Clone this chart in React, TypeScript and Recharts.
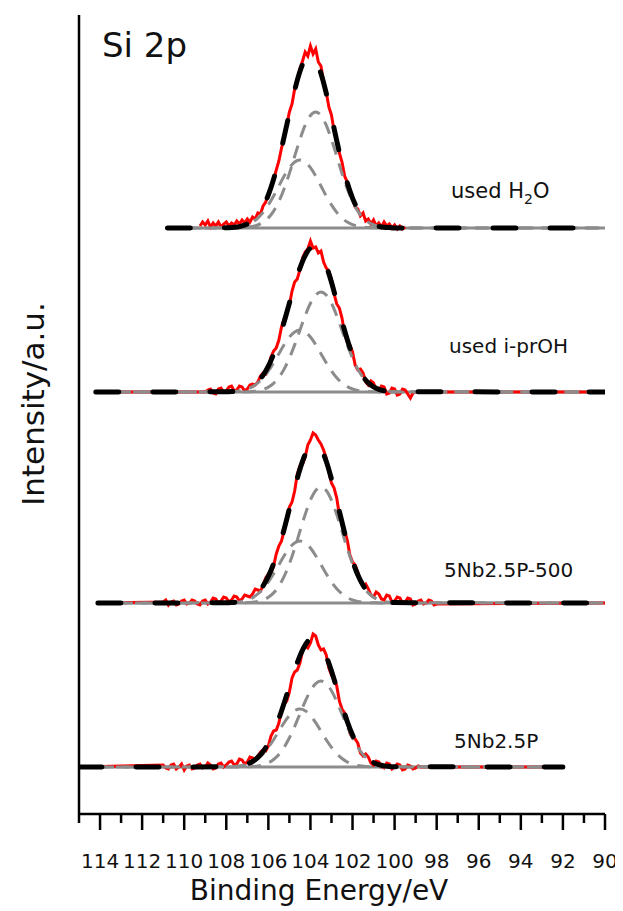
import React from 'react';
import { LineChart, Line, XAxis, YAxis } from 'recharts';

const FONT = '"DejaVu Sans", Verdana, sans-serif';

// Axis ticks (binding energy, eV)
const MAJOR_TICKS = [114, 112, 110, 108, 106, 104, 102, 100, 98, 96, 94, 92, 90];
const MINOR_TICKS = [115, 113, 111, 109, 107, 105, 103, 101, 99, 97, 95, 93, 91];

// Spectra (top to bottom)
const NAMES = ['used H2O', 'used i-prOH', '5Nb2.5P-500', '5Nb2.5P'];
const OFFSETS = [586, 422, 211, 47];
const RANGE_START = [110.8, 114.2, 114.1, 115];
const RANGE_END = [90, 90, 90, 92];

// Binding-energy grid of the fitted curves (peak region)
const FIT_BE = [108, 107.75, 107.5, 107.25, 107, 106.75, 106.5, 106.25, 106, 105.75, 105.5, 105.25, 105, 104.75, 104.5, 104.25, 104, 103.75, 103.5, 103.25, 103, 102.75, 102.5, 102.25, 102, 101.75, 101.5, 101.25, 101, 100.75, 100.5, 100.25, 100];

const H2O_ENV = [0.2, 0.4, 1.0, 2.2, 4.0, 7.4, 12.9, 21.3, 33.2, 48.9, 68.6, 91.2, 114.9, 137.7, 156.5, 168.9, 172.8, 167.9, 154.5, 134.9, 111.6, 87.3, 64.5, 45.2, 29.9, 18.7, 11.0, 6.1, 3.2, 1.6, 0.7, 0.4, 0.1];
const H2O_A = [0, 0, 0.1, 0.4, 0.7, 1.5, 3, 5.7, 10.1, 16.9, 26.6, 39.3, 54.6, 71.7, 88.5, 102.9, 112.5, 116, 112.5, 102.9, 88.5, 71.7, 54.6, 39.3, 26.6, 16.9, 10.1, 5.7, 3, 1.5, 0.7, 0.4, 0.1];
const H2O_B = [0.2, 0.4, 0.9, 1.8, 3.3, 5.9, 9.9, 15.6, 23.1, 32, 42, 51.9, 60.3, 66, 68, 66, 60.3, 51.9, 42, 32, 23.1, 15.6, 9.9, 5.9, 3.3, 1.8, 0.9, 0.4, 0.2, 0.1, 0, 0, 0];

const IPR_ENV = [0.2, 0.4, 0.8, 1.7, 3.3, 6.0, 10.4, 16.8, 25.9, 37.9, 52.9, 70.2, 88.9, 107.2, 123.8, 136.4, 143.7, 144.3, 138.3, 126.2, 109.7, 90.5, 70.9, 52.5, 36.9, 24.5, 15.4, 9.1, 5.1, 2.7, 1.3, 0.6, 0.3];
const IPR_A = [0, 0, 0, 0.1, 0.3, 0.6, 1.3, 2.6, 4.9, 8.7, 14.6, 22.9, 33.9, 47.1, 61.8, 76.3, 88.7, 97, 100, 97, 88.7, 76.3, 61.8, 47.1, 33.9, 22.9, 14.6, 8.7, 4.9, 2.6, 1.3, 0.6, 0.3];
const IPR_B = [0.2, 0.4, 0.8, 1.6, 3, 5.4, 9.1, 14.2, 21, 29.2, 38.3, 47.3, 55, 60.1, 62, 60.1, 55, 47.3, 38.3, 29.2, 21, 14.2, 9.1, 5.4, 3, 1.6, 0.8, 0.4, 0.2, 0.1, 0, 0, 0];

const C500_ENV = [0.2, 0.4, 0.9, 1.7, 3.4, 6.1, 10.6, 17.2, 26.7, 39.3, 55.2, 73.9, 94.3, 114.7, 133.7, 148.6, 157.9, 159.8, 154.3, 141.7, 123.9, 102.7, 80.8, 60.0, 42.3, 28.2, 17.7, 10.5, 5.9, 3.1, 1.5, 0.7, 0.4];
const C500_A = [0, 0, 0.1, 0.1, 0.4, 0.7, 1.5, 3, 5.7, 10.1, 16.9, 26.6, 39.3, 54.6, 71.7, 88.5, 102.9, 112.5, 116, 112.5, 102.9, 88.5, 71.7, 54.6, 39.3, 26.6, 16.9, 10.1, 5.7, 3, 1.5, 0.7, 0.4];
const C500_B = [0.2, 0.4, 0.8, 1.6, 3, 5.4, 9.1, 14.2, 21, 29.2, 38.3, 47.3, 55, 60.1, 62, 60.1, 55, 47.3, 38.3, 29.2, 21, 14.2, 9.1, 5.4, 3, 1.6, 0.8, 0.4, 0.2, 0.1, 0, 0, 0];

const NB_ENV = [0.2, 0.3, 0.8, 1.6, 3.1, 5.5, 9.6, 15.5, 23.9, 34.8, 48.4, 64.0, 80.6, 96.8, 111.1, 121.9, 127.7, 127.7, 121.8, 110.7, 96.0, 78.9, 61.6, 45.5, 32.0, 21.2, 13.4, 7.8, 4.4, 2.3, 1.1, 0.5, 0.3];
const NB_A = [0, 0, 0, 0.1, 0.3, 0.5, 1.1, 2.2, 4.2, 7.5, 12.6, 19.7, 29.2, 40.5, 53.1, 65.6, 76.3, 83.4, 86, 83.4, 76.3, 65.6, 53.1, 40.5, 29.2, 19.7, 12.6, 7.5, 4.2, 2.2, 1.1, 0.5, 0.3];
const NB_B = [0.2, 0.3, 0.8, 1.5, 2.8, 5, 8.5, 13.3, 19.7, 27.3, 35.8, 44.3, 51.4, 56.3, 58, 56.3, 51.4, 44.3, 35.8, 27.3, 19.7, 13.3, 8.5, 5, 2.8, 1.5, 0.8, 0.3, 0.2, 0.1, 0, 0, 0];

// Binding-energy grid of the measured (raw) spectra, 111 -> 98 eV
const RAW_BE = [
  111, 110.875, 110.75, 110.625, 110.5, 110.375, 110.25, 110.125,
  110, 109.875, 109.75, 109.625, 109.5, 109.375, 109.25, 109.125,
  109, 108.875, 108.75, 108.625, 108.5, 108.375, 108.25, 108.125,
  108, 107.875, 107.75, 107.625, 107.5, 107.375, 107.25, 107.125,
  107, 106.875, 106.75, 106.625, 106.5, 106.375, 106.25, 106.125,
  106, 105.875, 105.75, 105.625, 105.5, 105.375, 105.25, 105.125,
  105, 104.875, 104.75, 104.625, 104.5, 104.375, 104.25, 104.125,
  104, 103.875, 103.75, 103.625, 103.5, 103.375, 103.25, 103.125,
  103, 102.875, 102.75, 102.625, 102.5, 102.375, 102.25, 102.125,
  102, 101.875, 101.75, 101.625, 101.5, 101.375, 101.25, 101.125,
  101, 100.875, 100.75, 100.625, 100.5, 100.375, 100.25, 100.125,
  100, 99.875, 99.75, 99.625, 99.5, 99.375, 99.25, 99.125,
  99, 98.875, 98.75, 98.625, 98.5, 98.375, 98.25, 98.125,
  98,
];

const H2O_RAW = [
  null, null, null, null, null, null, null, null,
  null, null, null, null, null, null, 2, 6,
  3, 7, 1, 5, 2, 6, 1, 4,
  6, 2, 5, 3, 7, 4, 8, 5,
  9, 6, 11, 9, 15, 14, 22, 26,
  34, 39, 48, 58, 67, 80, 90, 103,
  116, 124, 139, 146, 159, 167, 176, 172,
  182, 174, 179, 166, 162, 146, 136, 121,
  113, 97, 88, 75, 66, 52, 46, 35,
  31, 21, 19, 12, 15, 7, 9, 4,
  8, 2, 5, 1, 6, 2, 4, 0,
  3, -1, 2, -1, 1, null, null, null,
  null, null, null, null, null, null, null, null,
  null,
];
const IPR_RAW = [
  0, 0, 0, 0, 0, 0, 0, 0,
  0, 0, 0, 0, 0, 0, 0, 0,
  0, 2, 3, -1, -2, 3, 4, 0,
  1, 5, 6, 1, 2, 6, 5, 1,
  3, 7, 8, 7, 10, 16, 19, 18,
  24, 35, 41, 44, 52, 65, 73, 79,
  87, 101, 110, 113, 122, 134, 140, 143,
  151, 144, 145, 139, 141, 130, 124, 121,
  113, 98, 88, 84, 74, 58, 50, 47,
  40, 27, 22, 23, 19, 10, 7, 11,
  9, 2, 1, 6, 5, -2, -1, 4,
  3, -3, -2, 3, 2, -2, -6, -1,
  0, 0, 0, 0, 0, 0, 0, 0,
  0,
];
const C500_RAW = [
  1, 3, -2, 1, 2, -2, -1, 2,
  3, -1, 0, 3, 2, -1, -2, 2,
  3, -1, 1, 5, 4, 0, 2, 6,
  5, 1, 3, 7, 6, 2, 4, 8,
  7, 6, 9, 14, 13, 12, 18, 25,
  29, 30, 37, 49, 57, 62, 72, 86,
  96, 101, 112, 129, 137, 139, 146, 158,
  163, 170, 168, 163, 159, 153, 145, 131,
  120, 115, 105, 88, 79, 72, 63, 48,
  41, 38, 31, 21, 17, 19, 14, 8,
  6, 11, 9, 4, 3, 8, 7, 1,
  2, 6, 5, 0, 1, 5, 4, -2,
  -1, 2, 3, -1, 0, 3, 2, -2,
  -1,
];
const NB_RAW = [
  2, -1, -2, 2, 3, -2, 0, 3,
  -3, 1, 2, -2, -1, 2, 3, -1,
  0, 4, 2, -2, -1, 3, 4, 0,
  2, 5, 6, 2, 3, 8, 7, 3,
  5, 10, 9, 8, 11, 15, 17, 16,
  21, 31, 36, 37, 44, 57, 63, 66,
  75, 89, 95, 97, 104, 116, 121, 119,
  124, 133, 131, 122, 117, 118, 112, 99,
  92, 88, 81, 66, 58, 54, 48, 34,
  29, 28, 24, 14, 11, 13, 10, 4,
  2, 6, 5, 0, -1, 4, 3, -2,
  0, 3, 2, -3, -2, 2, 1, -2,
  -1, 1, 0, 0, 0, 0, 0, 0,
  0,
];

const ENVS = [H2O_ENV, IPR_ENV, C500_ENV, NB_ENV];
const COMP_A = [H2O_A, IPR_A, C500_A, NB_A];
const COMP_B = [H2O_B, IPR_B, C500_B, NB_B];
const RAWS = [H2O_RAW, IPR_RAW, C500_RAW, NB_RAW];
const RAW_FLAT_ENDS = [false, true, true, true];

const RED = '#ff0000';
const GREY = '#8c8c8c';

type Pt = { x: number; y: number | null };

function fitSeries(i: number, vals: number[]): Pt[] {
  const off = OFFSETS[i];
  const pts: Pt[] = [{ x: RANGE_START[i], y: off }];
  FIT_BE.forEach((be, k) => pts.push({ x: be, y: vals[k] + off }));
  pts.push({ x: RANGE_END[i], y: off });
  return pts;
}

function rawSeries(i: number): Pt[] {
  const off = OFFSETS[i];
  const pts: Pt[] = [];
  if (RAW_FLAT_ENDS[i]) pts.push({ x: RANGE_START[i], y: off });
  RAW_BE.forEach((be, k) => {
    const v = RAWS[i][k];
    if (v !== null && v !== undefined) pts.push({ x: be, y: (v as number) + off });
  });
  if (RAW_FLAT_ENDS[i]) pts.push({ x: RANGE_END[i], y: off });
  return pts;
}

function baseSeries(i: number): Pt[] {
  return [
    { x: RANGE_START[i], y: OFFSETS[i] },
    { x: RANGE_END[i], y: OFFSETS[i] },
  ];
}

const ALL_TICKS = [...MAJOR_TICKS, ...MINOR_TICKS].sort((a, b) => b - a);

const Tick = (props: any) => {
  const { x, y, payload } = props;
  const v = payload.value as number;
  const major = MAJOR_TICKS.includes(v);
  return (
    <g>
      <line x1={x} x2={x} y1={y} y2={y + (major ? 16 : 9)} stroke="#000" strokeWidth={2.5} />
      {major && (
        <text x={x} y={y + 54} textAnchor="middle" fontSize={20} fontFamily={FONT} fill="#111">
          {v}
        </text>
      )}
    </g>
  );
};

const W = 615;
const H = 900;

export default function App() {
  const lines: React.ReactNode[] = [];
  NAMES.forEach((name, i) => {
    lines.push(
      <Line key={`base-${i}`} data={baseSeries(i)} dataKey="y" type="linear" stroke={GREY} strokeWidth={3} dot={false} activeDot={false} isAnimationActive={false} />
    );
    lines.push(
      <Line key={`raw-${i}`} data={rawSeries(i)} dataKey="y" type="linear" stroke={RED} strokeWidth={3} dot={false} activeDot={false} isAnimationActive={false} />
    );
    lines.push(
      <Line key={`b-${i}`} data={fitSeries(i, COMP_B[i])} dataKey="y" type="monotone" stroke={GREY} strokeWidth={3} strokeDasharray="13 9" dot={false} activeDot={false} isAnimationActive={false} />
    );
    lines.push(
      <Line key={`a-${i}`} data={fitSeries(i, COMP_A[i])} dataKey="y" type="monotone" stroke={GREY} strokeWidth={3} strokeDasharray="13 9" strokeDashoffset={7} dot={false} activeDot={false} isAnimationActive={false} />
    );
    lines.push(
      <Line key={`env-${i}`} data={fitSeries(i, ENVS[i])} dataKey="y" type="monotone" stroke="#000" strokeWidth={5} strokeLinecap="round" strokeDasharray="23 34" dot={false} activeDot={false} isAnimationActive={false} />
    );
  });

  return (
    <div style={{ position: 'relative', width: W, height: H, background: '#fff' }}>
      <LineChart width={W} height={H} margin={{ top: 7, right: 18, left: 0, bottom: 0 }}>
        <XAxis
          type="number"
          dataKey="x"
          domain={[90, 115]}
          reversed
          allowDataOverflow
          ticks={ALL_TICKS}
          interval={0}
          tick={(p: any) => <Tick {...p} />}
          tickLine={false}
          tickSize={0}
          tickMargin={0}
          axisLine={{ stroke: '#000', strokeWidth: 2.5 }}
          height={94}
        />
        <YAxis
          type="number"
          domain={[0, 799]}
          allowDataOverflow
          tick={false}
          tickLine={false}
          axisLine={{ stroke: '#000', strokeWidth: 2.5 }}
          width={71}
        />
        {lines}
      </LineChart>
      <svg width={W} height={H} style={{ position: 'absolute', left: 0, top: 0, pointerEvents: 'none' }}>
        <text x={94} y={49} fontSize={34} fontFamily={FONT} fill="#111">Si 2p</text>
        <text x={443} y={190} fontSize={21} fontFamily={FONT} fill="#111">
          used H<tspan fontSize={14} dy={6}>2</tspan><tspan dy={-6}>O</tspan>
        </text>
        <text x={441} y={345} fontSize={20} fontFamily={FONT} fill="#111">used i-prOH</text>
        <text x={436} y={569} fontSize={20} fontFamily={FONT} fill="#111">5Nb2.5P-500</text>
        <text x={446} y={740} fontSize={20} fontFamily={FONT} fill="#111">5Nb2.5P</text>
        <text x={311} y={892} fontSize={28} fontFamily={FONT} fill="#111" textAnchor="middle">Binding Energy/eV</text>
        <text transform="translate(36,396) rotate(-90)" fontSize={31} fontFamily={FONT} fill="#111" textAnchor="middle">Intensity/a.u.</text>
      </svg>
    </div>
  );
}
